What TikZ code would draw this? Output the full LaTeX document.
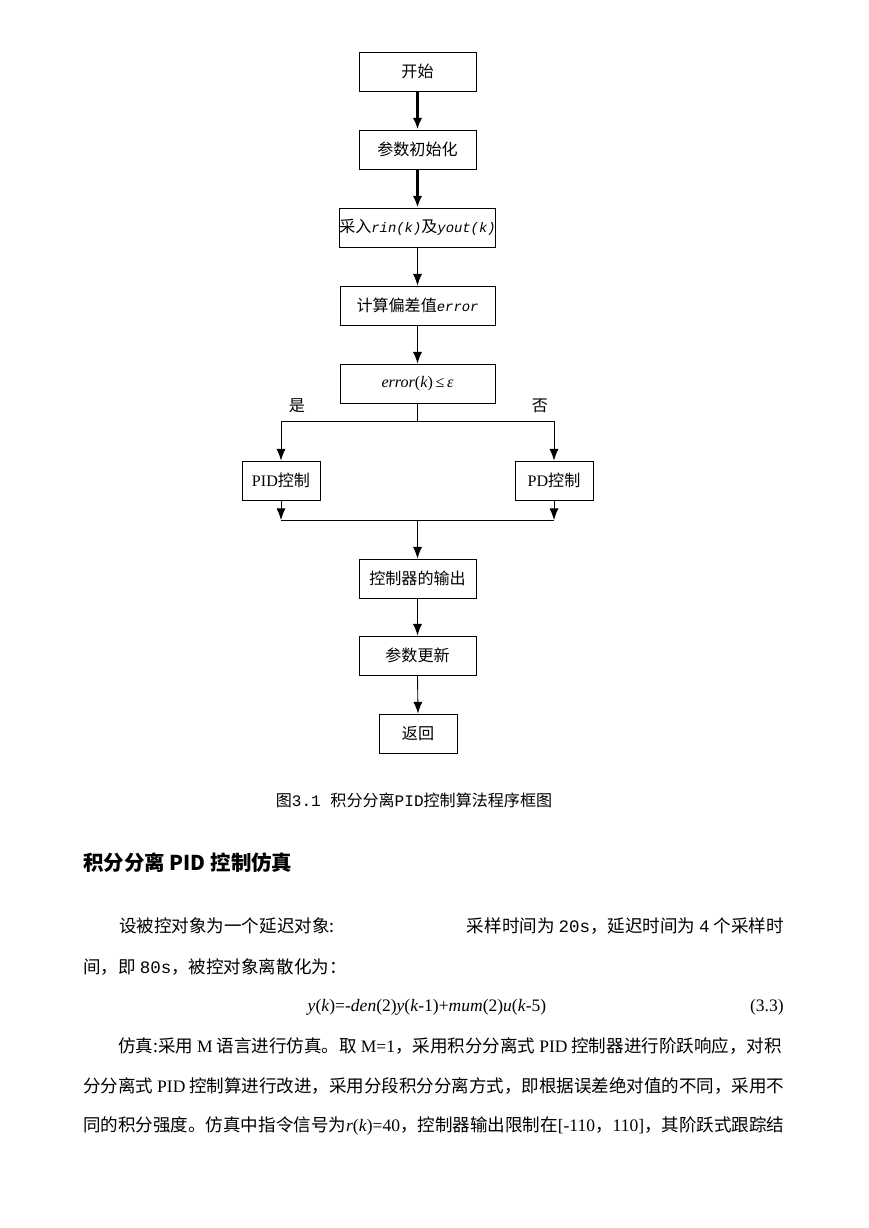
\documentclass[tikz,border=0pt]{standalone}
\usepackage{fontspec}
\setmainfont{Noto Sans CJK SC}
\newfontfamily\tm{Liberation Serif}
\newfontfamily\mono{Liberation Mono}
\usepackage{tikz}
\usetikzlibrary{positioning, arrows.meta, calc}
\XeTeXlinebreaklocale "zh"
\XeTeXlinebreakskip=0pt plus 1pt minus 0.4pt
\tolerance=10000
\def\upx{0.6847pt}
\tikzset{
  boite/.style={draw, line width=0.6pt, minimum width=117*\upx, minimum height=39*\upx,
    inner sep=0pt, font=\fontsize{11}{13}\selectfont},
  large/.style={minimum width=155*\upx},
  petite/.style={minimum width=78*\upx},
  fleche/.style={-{Latex[length=8pt,width=6.2pt]}, line width=0.6pt},
  epais/.style={-{Latex[length=8pt,width=6.5pt]}, line width=1.6pt},
  ligne/.style={line width=0.6pt},
  corps/.style={anchor=base west, inner sep=0pt, font=\fontsize{12}{14}\selectfont},
}

\begin{document}
\begin{tikzpicture}[x=\upx, y=-\upx]
  \useasboundingbox (0,0) rectangle (869,1228);
  % les blocs de l'organigramme
  \node[boite] (debut) at (417.5,71.5) {开始};
  \node[boite] (init) at (417.5,149.5) {参数初始化};
  \node[boite, large] (acq) at (417.5,227.5) {采入{\fontsize{9.5}{11}\selectfont\mono\itshape rin(k)}及{\fontsize{9.5}{11}\selectfont\mono\itshape yout(k)}};
  \node[boite, large] (ecart) at (417.5,305.5) {计算偏差值{\fontsize{9.5}{11}\selectfont\mono\itshape error}};
  \node[boite, large] (test) at (417.5,383.5) {{\tm\textit{error}(\textit{k})\,≤\,\textit{ε}}};
  \node[boite, petite] (pid) at (281,480.5) {{\tm PID}控制};
  \node[boite, petite] (pd) at (554,480.5) {{\tm PD}控制};
  \node[boite] (sortie) at (417.5,578.5) {控制器的输出};
  \node[boite] (maj) at (417.5,655.5) {参数更新};
  \node[boite, petite] (retour) at (418,733.5) {返回};
  % flèches verticales
  \foreach \a/\b in {debut/init, init/acq}
    \draw[epais] (\a.south) -- (\b.north);
  \foreach \a/\b in {acq/ecart, ecart/test, sortie/maj, maj/retour}
    \draw[fleche] (\a.south) -- (\b.north);
  % séparation et réunion des branches
  \coordinate (split) at ($(test.south)+(0,18)$);
  \coordinate (merge) at (417.5,520);
  \draw[ligne] (test.south) -- (split);
  \draw[fleche] (split) -| (pid.north);
  \draw[fleche] (split) -| (pd.north);
  \draw[fleche] (pid.south) -- (pid.south |- merge);
  \draw[fleche] (pd.south) -- (pd.south |- merge);
  \draw[ligne] (pid.south |- merge) -- (pd.south |- merge);
  \draw[fleche] (merge) -- (sortie.north);
  \node[font=\fontsize{11}{13}\selectfont] (oui) at (297,406) {是};
  \node[font=\fontsize{11}{13}\selectfont] (non) at (540,406) {否};
  % légende et texte
  \node[font=\fontsize{11}{13}\selectfont] (legende) at (414,800) {图{\mono 3.1 }积分分离{\mono PID}控制算法程序框图};
  \node[anchor=west, inner sep=0pt, font=\fontsize{14}{16}\selectfont\bfseries] (titre) at (83,863) {积分分离 PID 控制仿真};
  \node[corps] (l1a) at (119,932) {设被控对象为一个延迟对象:};
  \node[corps, anchor=base east] (l1b) at (784,932) {采样时间为 {\mono 20s}，延迟时间为 {\mono 4} 个采样时};
  \node[corps] (l2) at (83,973) {间，即 {\mono 80s}，被控对象离散化为：};
  \node[corps, anchor=base] (eq) at (427,1011) {\tm\textit{y}(\textit{k})=-\textit{den}(2)\textit{y}(\textit{k}-1)+\textit{mum}(2)\textit{u}(\textit{k}-5)};
  \node[corps, anchor=base east] (num) at (784,1011) {\tm (3.3)};
  \node[corps, text width=701*\upx, align=justify] (l4) at (83,1052)
    {\parfillskip=0pt\noindent\hspace*{2em}仿真:采用 {\tm M} 语言进行仿真。取 {\tm M=1}，采用积分分离式 {\tm PID} 控制器进行阶跃响应，对积};
  \node[corps, text width=701*\upx, align=justify] (l5) at (83,1092)
    {\parfillskip=0pt\noindent 分分离式 {\tm PID} 控制算进行改进，采用分段积分分离方式，即根据误差绝对值的不同，采用不};
  \node[corps, text width=701*\upx, align=justify] (l6) at (83,1131)
    {\parfillskip=0pt\noindent 同的积分强度。仿真中指令信号为{\tm\textit{r}(\textit{k})=40}，控制器输出限制在{\tm [-110}，{\tm 110]}，其阶跃式跟踪结};
\end{tikzpicture}
\end{document}
